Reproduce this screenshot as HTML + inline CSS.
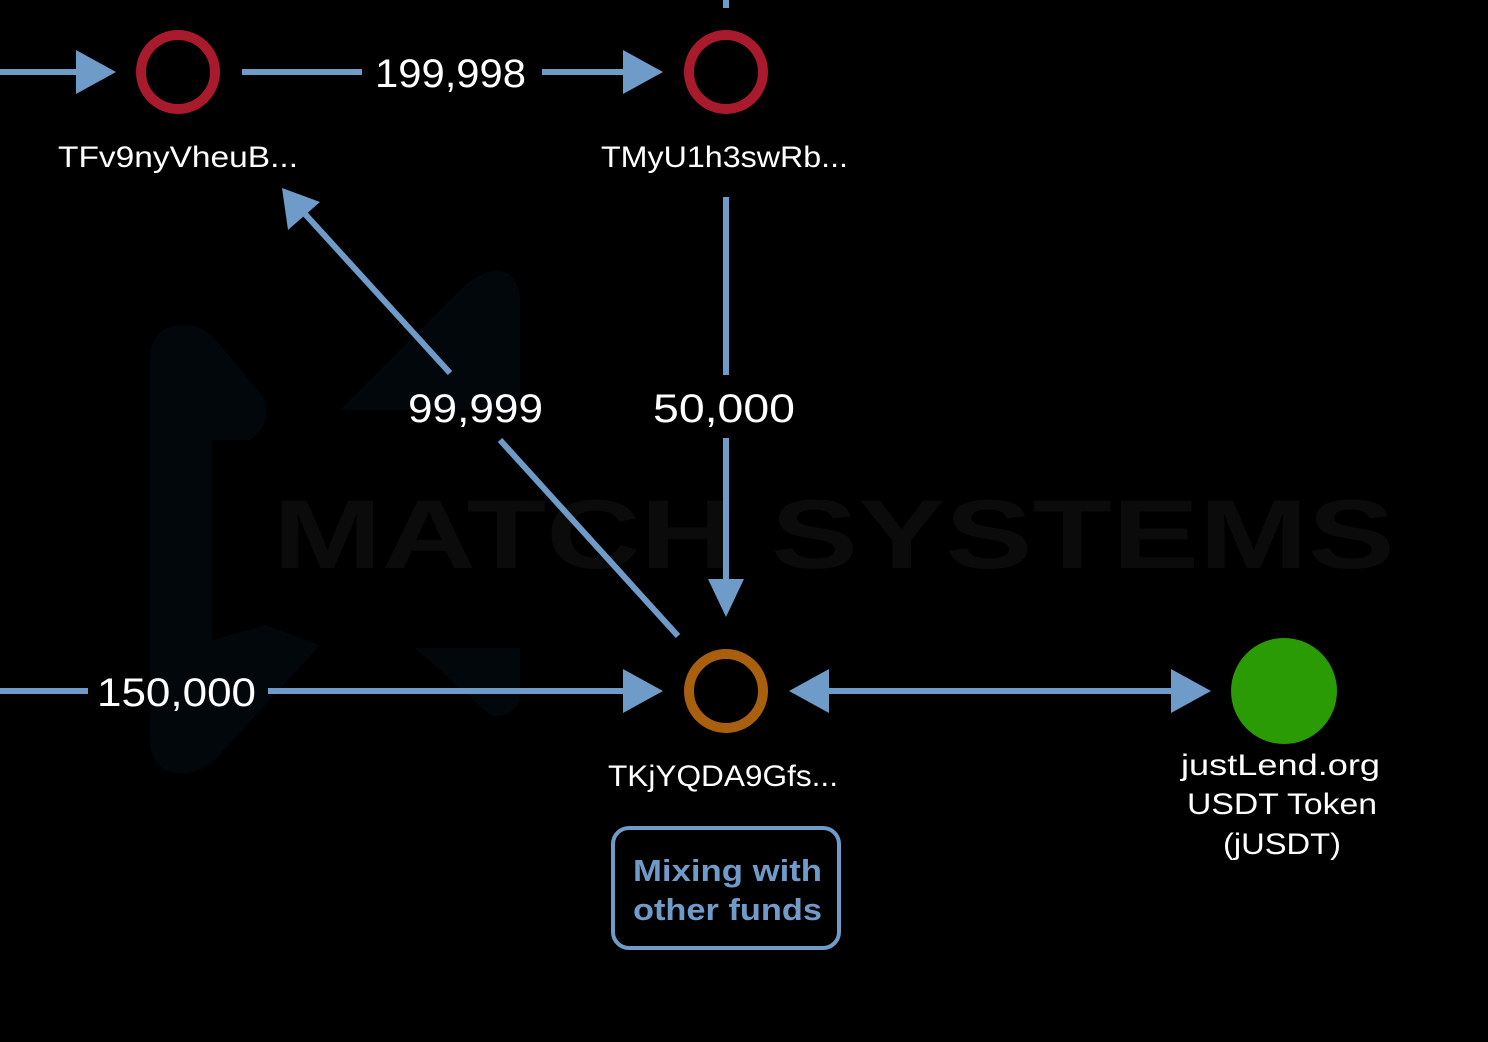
<!DOCTYPE html>
<html><head><meta charset="utf-8"><style>
html,body{margin:0;padding:0;background:#000;}
svg{display:block;}
text{font-family:"Liberation Sans",sans-serif;}
</style></head><body>
<svg width="1488" height="1042" viewBox="0 0 1488 1042" xmlns="http://www.w3.org/2000/svg">
<rect width="1488" height="1042" fill="#000"/>
<g fill="#02070c">
<path d="M150 360 Q150 325 185 325 Q205 325 220 345 L262 395 Q275 420 250 440 L212 440 L212 640 L265 625 L320 645 L215 760 Q190 780 165 770 Q150 760 150 740 Z"/>
<path d="M340 410 L460 290 Q490 262 510 275 Q520 285 520 300 L520 410 Z"/>
<path d="M415 648 L520 648 L520 700 Q510 720 490 715 Z"/>
</g>
<text x="834" y="568" text-anchor="middle" font-size="98" font-weight="bold" fill="#0b0b0b" textLength="1122" lengthAdjust="spacingAndGlyphs">MATCH SYSTEMS</text>
<g stroke="#6f9bc8" stroke-width="6" fill="none">
<line x1="0" y1="72" x2="80" y2="72"/>
<line x1="242" y1="72" x2="362" y2="72"/>
<line x1="542" y1="72" x2="626" y2="72"/>
<line x1="726" y1="0" x2="726" y2="8"/>
<line x1="726" y1="197" x2="726" y2="375"/>
<line x1="726" y1="438" x2="726" y2="582"/>
<line x1="678" y1="636" x2="500" y2="440"/>
<line x1="450" y1="373" x2="305" y2="214"/>
<line x1="0" y1="691" x2="88" y2="691"/>
<line x1="268" y1="691" x2="626" y2="691"/>
<line x1="826" y1="691" x2="1174" y2="691"/>
</g>
<g fill="#6f9bc8">
<polygon points="116,72 76,50 76,94"/>
<polygon points="663,72 623,50 623,94"/>
<polygon points="726,617 708,579 744,579"/>
<polygon points="282,188 288,230 320,202"/>
<polygon points="663,691 623,669 623,713"/>
<polygon points="789,691 829,669 829,713"/>
<polygon points="1211,691 1171,669 1171,713"/>
</g>
<g fill="none" stroke-width="10">
<circle cx="178" cy="72" r="37" stroke="#a81a2c"/>
<circle cx="726" cy="72" r="37" stroke="#a81a2c"/>
<circle cx="726" cy="691" r="37" stroke="#a8600f"/>
</g>
<circle cx="1284" cy="691" r="53" fill="#2a9a05"/>
<g fill="#fff" lengthAdjust="spacingAndGlyphs">
<text x="375" y="87" font-size="40" textLength="151" lengthAdjust="spacingAndGlyphs">199,998</text>
<text x="408" y="422" font-size="40" textLength="135" lengthAdjust="spacingAndGlyphs">99,999</text>
<text x="653" y="422" font-size="40" textLength="142" lengthAdjust="spacingAndGlyphs">50,000</text>
<text x="97" y="706" font-size="40" textLength="159" lengthAdjust="spacingAndGlyphs">150,000</text>
<text x="58" y="167" font-size="30" textLength="240" lengthAdjust="spacingAndGlyphs">TFv9nyVheuB...</text>
<text x="601" y="167" font-size="30" textLength="247" lengthAdjust="spacingAndGlyphs">TMyU1h3swRb...</text>
<text x="608" y="786" font-size="30" textLength="230" lengthAdjust="spacingAndGlyphs">TKjYQDA9Gfs...</text>
<text x="1181" y="775" font-size="30" textLength="199" lengthAdjust="spacingAndGlyphs">justLend.org</text>
<text x="1187" y="814" font-size="30" textLength="190" lengthAdjust="spacingAndGlyphs">USDT Token</text>
<text x="1223" y="854" font-size="30" textLength="118" lengthAdjust="spacingAndGlyphs">(jUSDT)</text>
</g>
<rect x="613" y="828" width="226" height="120" rx="16" fill="none" stroke="#6f9bc8" stroke-width="4"/>
<g fill="#6f9bc8" font-weight="bold" font-size="31">
<text x="633" y="881" textLength="189" lengthAdjust="spacingAndGlyphs">Mixing with</text>
<text x="633" y="920" textLength="189" lengthAdjust="spacingAndGlyphs">other funds</text>
</g>
</svg>
</body></html>
